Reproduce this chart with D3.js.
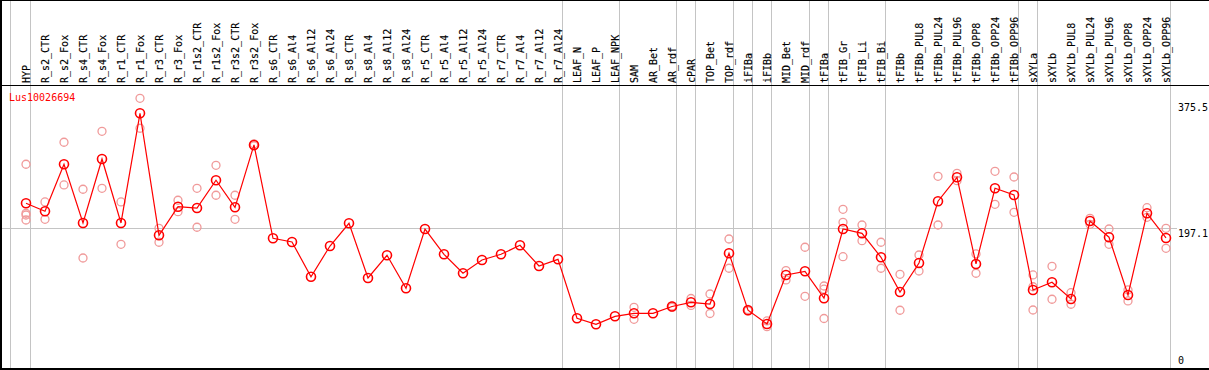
<!DOCTYPE html>
<html><head><meta charset="utf-8">
<script src="https://cdn.jsdelivr.net/npm/d3@7"></script>
<style>body{margin:0;background:#fff}svg{display:block}text{font-family:"DejaVu Sans Mono",monospace;font-size:10px}</style>
</head><body>
<script>
const title = "Lus10026694";
const categories = ["HYP","R_s2_CTR","R_s2_Fox","R_s4_CTR","R_s4_Fox","R_r1_CTR","R_r1_Fox","R_r3_CTR","R_r3_Fox","R_r1s2_CTR","R_r1s2_Fox","R_r3s2_CTR","R_r3s2_Fox","R_s6_CTR","R_s6_Al4","R_s6_Al12","R_s6_Al24","R_s8_CTR","R_s8_Al4","R_s8_Al12","R_s8_Al24","R_r5_CTR","R_r5_Al4","R_r5_Al12","R_r5_Al24","R_r7_CTR","R_r7_Al4","R_r7_Al12","R_r7_Al24","LEAF_N","LEAF_P","LEAF_NPK","SAM","AR_Bet","AR_rdf","cPAR","TOP_Bet","TOP_rdf","iFIBa","iFIBb","MID_Bet","MID_rdf","tFIBa","tFIB_Gr","tFIB_Li","tFIB_Bi","tFIBb","tFIBb_PUL8","tFIBb_PUL24","tFIBb_PUL96","tFIBb_OPP8","tFIBb_OPP24","tFIBb_OPP96","sXYLa","sXYLb","sXYLb_PUL8","sXYLb_PUL24","sXYLb_PUL96","sXYLb_OPP8","sXYLb_OPP24","sXYLb_OPP96"];
const groupSizes = [1,28,3,3,1,2,1,1,2,1,3,7,1,7];
const means = [232.6,221.3,288.0,204.7,295.5,204.7,360.3,187.2,227.8,225.9,265.3,226.9,315.4,182.9,177.7,128.4,172.0,204.2,126.6,158.8,112.0,196.1,160.2,133.3,152.1,160.2,173.0,143.6,153.1,69.4,60.9,72.2,76.5,76.5,86.1,92.1,89.7,161.7,80.9,61.3,130.9,136.1,97.9,196.1,190.0,156.0,106.7,147.9,235.5,269.5,146.5,253.9,244.4,109.6,120.5,96.8,207.5,184.5,102.5,218.4,183.4];
const replicates = [
 [288.0,218.4,216.0,208.9],[234.5,209.9],[319.2,258.6],[252.5,155.0],[334.8,253.9],[234.5,174.4],[381.6,339.1],[197.1,177.3],[236.9,220.7],[253.9,198.6],[286.5,244.0],[244.0,209.9],[317,314],
 [],[],[],[],[],[],[],[],[],[],[],[],[],[],[],[],
 [],[],[],
 [85.0,68.0],[],[85.0,87.0],
 [97.5,87.6],
 [103.9,76.2],[181.9,140.4],
 [80.0,82.0],[57.5,65.6],
 [137.0,123.8],[170.2,100.6],
 [115.2,110.7,69.1],
 [224.1,205.6,156.8],[201.8,179.5],[177.3,140.4],
 [131.8,80.8],[159.2,136.5],[270.9,201.8],[275.2,264.7],[160.7,133.3],[278.0,231.2],[269.9,219.8],
 [130.9,114.2,81.2],
 [143.2,96.4],[105.7,89.3],[211.3,202.8],[196.1,174.4],[109.6,94.0],[226.4,212.7],[197.1,168.7]
];
const yTicks = [0,197.1,375.5];
const refLine = 197.1;

const W = 1209, H = 370;
const svg = d3.select("body").append("svg").attr("width",W).attr("height",H);
const x = d3.scalePoint().domain(categories).range([26,1166]);
const step = x.step();
const y = d3.scaleLinear().domain([0,375.5]).range([367.2,102.6]);

// separators
let cum = 0;
const seps = [x(categories[0]) - step + 3];
groupSizes.forEach(s => { cum += s; seps.push(x(categories[cum-1]) + 4); });
svg.append("g").selectAll("line").data(seps).join("line")
  .attr("x1",d=>d).attr("x2",d=>d).attr("y1",0).attr("y2",369)
  .attr("stroke","#c4c4c4").attr("stroke-width",1).attr("shape-rendering","crispEdges");

// reference line
svg.append("line").attr("x1",1).attr("x2",1177).attr("y1",Math.round(y(refLine))+0.5).attr("y2",Math.round(y(refLine))+0.5)
  .attr("stroke","#c4c4c4").attr("stroke-width",1);

// frame
const frame = svg.append("g").attr("stroke","#000").attr("stroke-width",1.5).attr("shape-rendering","crispEdges");
frame.append("line").attr("x1",0).attr("x2",W).attr("y1",0.5).attr("y2",0.5);
frame.append("line").attr("x1",0).attr("x2",W).attr("y1",85.5).attr("y2",85.5);
frame.append("line").attr("x1",0).attr("x2",W).attr("y1",369).attr("y2",369);
frame.append("line").attr("x1",1).attr("x2",1).attr("y1",0).attr("y2",H);

// column labels
svg.append("g").selectAll("text").data(categories).join("text")
  .attr("transform",d=>`translate(${x(d)+3.6},83) rotate(-90)`)
  .attr("fill","#000").attr("stroke","#000").attr("stroke-width",0.15).text(d=>d);

// y axis labels
const yAxis = d3.axisRight(y).tickValues(yTicks).tickSize(0).tickPadding(0).tickFormat(d=>String(d));
const ga = svg.append("g").attr("transform","translate(1178,0)").call(yAxis);
ga.select(".domain").remove();
ga.selectAll("text").attr("font-family","DejaVu Sans Mono").attr("font-size",10).attr("fill","#000")
  .attr("dy",null).attr("y",d=> d===0 ? -4 : 8);

// title
svg.append("text").attr("x",9).attr("y",101).attr("fill","#ff0000").text(title);

// replicates
const repPts = [];
replicates.forEach((r,i)=>r.forEach(v=>repPts.push({c:categories[i],v})));
svg.append("g").selectAll("circle").data(repPts).join("circle")
  .attr("cx",d=>x(d.c)).attr("cy",d=>y(d.v)).attr("r",4)
  .attr("fill","none").attr("stroke","#f09a9a").attr("stroke-width",1.3);

// mean line
const pts = categories.map((c,i)=>({c,v:means[i]}));
svg.append("path").datum(pts)
  .attr("d",d3.line().x(d=>x(d.c)).y(d=>y(d.v)))
  .attr("fill","none").attr("stroke","#ff0000").attr("stroke-width",1.2);
svg.append("g").selectAll("circle").data(pts).join("circle")
  .attr("cx",d=>x(d.c)).attr("cy",d=>y(d.v)).attr("r",4.5)
  .attr("fill","none").attr("stroke","#ff0000").attr("stroke-width",1.6);
</script>
</body></html>
